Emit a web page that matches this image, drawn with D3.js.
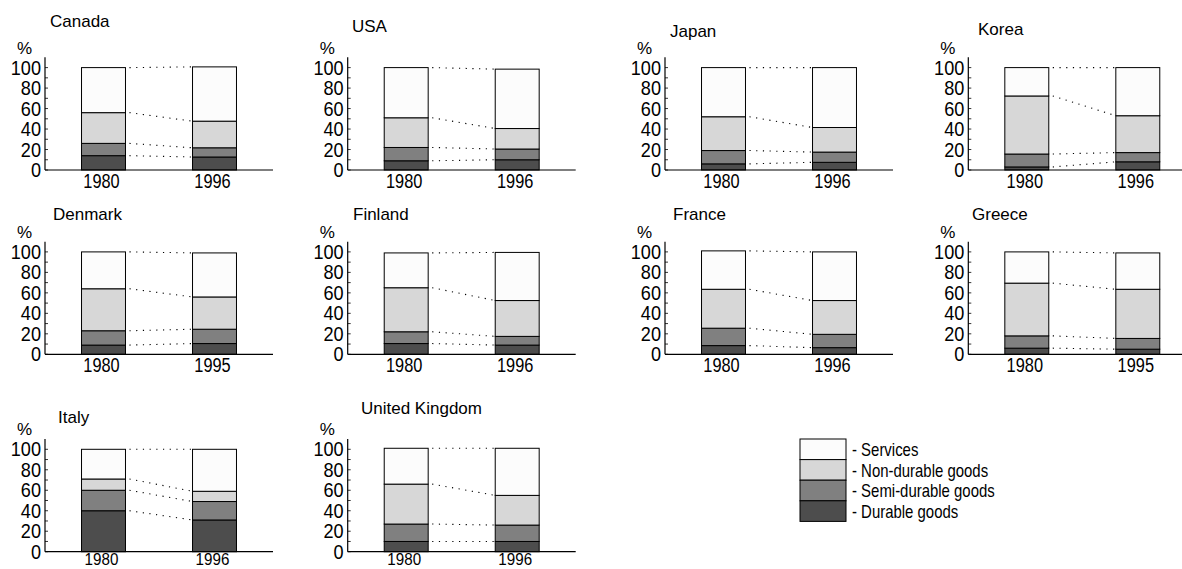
<!DOCTYPE html>
<html>
<head>
<meta charset="utf-8">
<script src="https://cdn.jsdelivr.net/npm/d3@7"></script>
<style>
  html, body { margin: 0; padding: 0; background: #fff; }
  svg { display: block; }
  text { font-family: "Liberation Sans", Arial, Helvetica, sans-serif; fill: #000; }
</style>
</head>
<body>
<svg id="chart" width="1182" height="569"></svg>
<script>
// ---- data (shares of consumption, %) ----
const countries = ["Canada", "USA", "Japan", "Korea", "Denmark", "Finland", "France", "Greece", "Italy", "United Kingdom"];
const years = [["1980","1996"],["1980","1996"],["1980","1996"],["1980","1996"],["1980","1995"],["1980","1996"],["1980","1996"],["1980","1995"],["1980","1996"],["1980","1996"]];
const durable     = [[14,12.7],[9,10],[6,7.5],[3,8],[9,10.5],[10.5,9],[8.5,6.5],[6,5],[40,31],[10,10]];
const semiDurable = [[12,9],[13,10.5],[13,10],[12.6,9],[14,14],[11.5,8.5],[17,13],[12,10.5],[20,18],[17,16]];
const nonDurable  = [[30,26],[29,20],[33,24],[56.7,36],[41,31.5],[43,35],[38,33],[51.5,48],[11,10],[39,29]];
const services    = [[44,53],[49,58],[48,58.5],[27.7,47],[36,43],[34,47],[37.5,47.5],[30.5,35.5],[29,41],[35,46]];
const categories  = ["Durable goods", "Semi-durable goods", "Non-durable goods", "Services"];
const yTicks      = [0, 20, 40, 60, 80, 100];

// ---- layout ----
const colX = [45, 347.7, 665, 968.3];
const rowY0 = [170, 354.3, 551.7];
const plotH = 102.4;     // pixels for 100 %
const axisW = 228;
const titlePos = [[50,27],[352,32],[670,37],[978,35],[53,220],[353,220],[673,220],[972,220],[58,423],[361,414]];
const colors = {"Durable goods":"#4d4d4d","Semi-durable goods":"#808080","Non-durable goods":"#d7d7d7","Services":"#fcfcfc"};

const svg = d3.select("#chart");
const seriesArr = [durable, semiDurable, nonDurable, services];

// condensed text helper (emulates a narrow sans face)
function ntext(parent, x, y, str, size, sx, anchor) {
  return parent.append("text")
    .attr("transform", `translate(${x},${y}) scale(${sx},1)`)
    .attr("text-anchor", anchor || "start")
    .style("font-size", size + "px")
    .text(str);
}

countries.forEach((c, i) => {
  const col = i < 8 ? i % 4 : i - 8;
  const row = Math.floor(i / 4);
  const ax = colX[col], y0 = rowY0[row];
  const g = svg.append("g").attr("transform", `translate(${ax},${y0 - plotH})`);

  const y = d3.scaleLinear().domain([0, 100]).range([plotH, 0]);
  const x = d3.scaleBand().domain(years[i]).range([0, axisW]).paddingInner(0.604).paddingOuter(0.329);

  const rows = years[i].map((yr, j) => {
    const o = {year: yr};
    categories.forEach((k, s) => o[k] = seriesArr[s][i][j]);
    return o;
  });
  const stack = d3.stack().keys(categories)(rows);

  // connectors
  stack.forEach(layer => {
    g.append("line")
      .attr("x1", x(years[i][0]) + x.bandwidth() + 4)
      .attr("x2", x(years[i][1]))
      .attr("y1", y(layer[0][1]))
      .attr("y2", y(layer[1][1]))
      .attr("stroke", "#000")
      .attr("stroke-width", 1.1)
      .attr("stroke-dasharray", "1.2,5.5");
  });

  // bars
  stack.forEach(layer => {
    g.selectAll(null).data(layer).enter().append("rect")
      .attr("x", d => x(d.data.year))
      .attr("width", x.bandwidth())
      .attr("y", d => y(d[1]))
      .attr("height", d => y(d[0]) - y(d[1]))
      .attr("fill", colors[layer.key])
      .attr("stroke", "#000")
      .attr("stroke-width", 1);
  });

  // y axis
  g.append("line").attr("x1", 0).attr("x2", 0).attr("y1", y(110)).attr("y2", y(0))
    .attr("stroke", "#000").attr("stroke-width", 1.2);
  d3.range(0, 110, 10).forEach(v => {
    g.append("line").attr("x1", 0).attr("x2", 3).attr("y1", y(v)).attr("y2", y(v))
      .attr("stroke", "#000").attr("stroke-width", 0.8);
  });
  yTicks.forEach(v => {
    ntext(g, -4, y(v) + 7, String(v), 19.5, 0.93, "end");
  });
  g.append("text").attr("x", -28).attr("y", y(100) - 14).style("font-size", "17px").text("%");

  // x axis
  g.append("line").attr("x1", 0).attr("x2", axisW).attr("y1", y(0)).attr("y2", y(0))
    .attr("stroke", "#000").attr("stroke-width", 1.2);
  const yearDy = row === 2 ? 13.3 : 18;
  const yearSize = row === 2 ? 16 : 19.5;
  const yearSx = row === 2 ? 0.95 : 0.84;
  years[i].forEach(yr => {
    ntext(g, x(yr) + x.bandwidth() / 2 - 2, y(0) + yearDy, yr, yearSize, yearSx, "middle");
  });

  // title
  svg.append("text").attr("x", titlePos[i][0]).attr("y", titlePos[i][1])
    .style("font-size", "17px").text(c);
});

// legend
const lg = svg.append("g").attr("transform", "translate(800,439)");
const legendOrder = categories.slice().reverse();
const lh = 20.6;
legendOrder.forEach((k, j) => {
  lg.append("rect").attr("x", 0).attr("y", j * lh).attr("width", 46).attr("height", lh)
    .attr("fill", colors[k]).attr("stroke", "#000").attr("stroke-width", 1);
  ntext(lg, 52, j * lh + 17, "- " + k, 18, 0.83, "start");
});
</script>
</body>
</html>
